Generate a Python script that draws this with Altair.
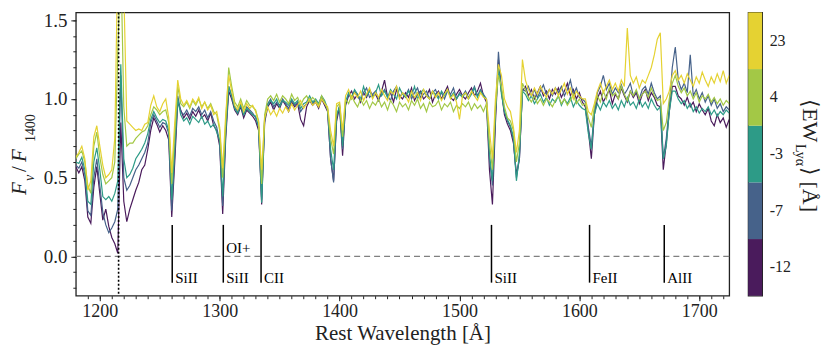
import altair as alt
import pandas as pd

# ---------------- data ----------------
lam = [1180 + 2.5 * i for i in range(219)]

ew_labels = ["-12", "-7", "-3", "4", "23"]
colors = ["#4a1b5c", "#46628a", "#2d9b87", "#a3c846", "#e5d232"]

flux_m12 = [
    .57, .53, .57, .48, .25, .21, .44, .57, .40, .23,
    .30, .19, .12, .08, .02, .85, .35, .22, .30, .36,
    .42, .47, .55, .58, .68, .80, .88, .84, .79, .83,
    .80, .74, .25, .60, .98, .93, .88, .91, .87, .92,
    .89, .93, .88, .90, .86, .91, .83, .80, .70, .27,
    .75, 1.05, 1.0, .93, .90, .95, .88, .93, .91, .89,
    .86, .80, .33, .85, .95, .98, .93, .97, .94, .99,
    .96, .92, .98, .95, .97, .87, .83, .95, .99, .96,
    .98, .94, 1.0, .96, .92, .62, .48, .86, .95, .64,
    .96, 1.02, 1.05, 1.0, 1.03, .98, 1.04, 1.01, 1.06, 1.02,
    1.03, .99, 1.05, 1.12, 1.01, 1.04, .98, 1.06, 1.02, 1.0,
    1.04, 1.01, 1.07, .99, 1.03, 1.05, 1.0, 1.02, 1.06, .98,
    1.03, 1.05, 1.0, 1.04, 1.08, 1.01, .99, 1.03, 1.06, 1.02,
    1.0, 1.04, 1.07, 1.02, 1.05, 1.1, 1.02, .98, .55, .33,
    .85, 1.25, 1.05, .90, .84, .80, .72, .52, .62, 1.05,
    1.08, 1.02, 1.06, 1.0, 1.04, 1.08, 1.02, 1.05, 1.0, 1.06,
    1.03, 1.07, 1.01, 1.05, 1.1, 1.02, 1.06, 1.0, 1.04, .98,
    .95, .80, .62, .90, 1.0, 1.05, .98, 1.02, 1.06, .97,
    1.03, 1.0, 1.07, 1.02, .98, 1.05, 1.01, 1.04, .97, 1.03,
    1.06, .99, 1.04, 1.01, .96, .95, .55, .72, .92, 1.08,
    1.08, 1.02, 1.0, .96, 1.01, .95, .98, .92, .97, .93,
    .90, .94, .86, .83, .90, .85, .88, .82, .87]

flux_m7 = [
    .58, .56, .60, .52, .29, .26, .50, .62, .45, .28,
    .20, .15, .18, .22, .30, 1.15, .50, .42, .45, .50,
    .55, .58, .62, .66, .72, .85, .90, .86, .82, .85,
    .84, .78, .29, .65, 1.02, .92, .90, .93, .89, .94,
    .92, .95, .90, .93, .88, .92, .86, .82, .72, .32,
    .78, 1.08, 1.02, .95, .92, .97, .90, .95, .93, .91,
    .88, .82, .36, .88, .97, 1.0, .95, .98, .96, 1.0,
    .97, .94, .99, .96, .98, .92, .95, .97, 1.0, .97,
    .99, .96, 1.01, .98, .93, .62, .47, .88, .96, .68,
    .97, 1.03, 1.0, 1.05, 1.02, .99, 1.04, 1.07, 1.01, 1.03,
    1.05, 1.0, 1.03, 1.06, 1.02, .99, 1.05, 1.08, 1.01, 1.04,
    1.02, 1.06, 1.0, 1.04, 1.07, 1.01, 1.03, 1.05, 1.0, 1.04,
    1.06, 1.01, 1.04, 1.0, 1.05, 1.03, 1.07, 1.0, 1.04, 1.02,
    1.05, 1.01, 1.04, 1.08, 1.02, 1.06, 1.03, 1.0, .62, .45,
    .90, 1.30, 1.05, .92, .86, .82, .74, .50, .62, 1.06,
    1.05, 1.08, 1.02, 1.06, 1.01, 1.05, 1.09, 1.03, 1.06, 1.02,
    1.07, 1.04, 1.08, 1.02, 1.06, 1.12, 1.03, 1.07, 1.01, 1.0,
    .98, .82, .70, .92, 1.04, 1.08, 1.15, 1.06, 1.1, 1.03,
    1.07, 1.04, 1.09, 1.03, 1.06, 1.1, 1.02, 1.05, 1.0, 1.06,
    1.08, 1.03, 1.1, 1.04, 1.0, 1.02, .62, .75, .95, 1.2,
    1.33, 1.12, 1.06, 1.1, 1.04, 1.28, 1.02, 1.06, 1.0, 1.04,
    .98, 1.02, .96, 1.0, .94, .97, .92, .95, .93]

flux_m3 = [
    .60, .59, .63, .55, .35, .33, .60, .69, .55, .38,
    .36, .38, .35, .40, .48, 1.22, .62, .50, .52, .56,
    .62, .65, .68, .72, .78, .87, .92, .88, .85, .87,
    .86, .80, .36, .70, 1.0, .90, .86, .88, .84, .89,
    .87, .85, .89, .84, .86, .82, .84, .79, .74, .38,
    .80, 1.08, 1.02, .94, .91, .96, .90, .94, .92, .90,
    .89, .82, .34, .87, .96, .99, .97, 1.0, .95, .99,
    .98, .96, 1.0, .97, .99, .94, .97, .98, 1.02, .98,
    1.0, .97, 1.02, .99, .94, .68, .55, .90, .95, .70,
    .98, 1.04, 1.01, 1.06, 1.03, 1.0, 1.08, 1.02, 1.05, 1.01,
    1.04, 1.09, 1.02, 1.05, 1.01, 1.06, 1.03, 1.0, 1.07, 1.03,
    1.01, 1.05, 1.02, 1.08, 1.0, 1.04, 1.06, 1.02, 1.0, 1.05,
    1.03, 1.0, 1.05, 1.02, 1.06, 1.01, 1.04, 1.0, 1.03, 1.01,
    1.04, 1.0, 1.03, 1.07, 1.01, 1.05, 1.02, 1.0, .65, .48,
    .92, 1.20, 1.03, .92, .87, .83, .76, .48, .65, 1.05,
    1.03, .99, 1.02, .97, 1.0, 1.03, .98, 1.01, .96, 1.0,
    .98, 1.02, .96, 1.0, .97, 1.01, .95, .99, .96, .94,
    .93, .78, .68, .90, .97, .93, .98, .95, .99, .94,
    .97, .93, .99, .95, 1.01, .96, .98, .94, 1.0, .95,
    .98, .94, 1.0, .96, .93, .95, .62, .70, .92, 1.05,
    1.05, 1.0, .97, .99, .94, .97, .92, .95, .91, .94,
    .92, .95, .90, .93, .89, .92, .90, .93, .91]

flux_p4 = [
    .62, .65, .67, .60, .45, .40, .70, .79, .63, .52,
    .46, .48, .50, .60, 1.30, 1.90, .95, .70, .72, .72,
    .75, .77, .79, .80, .83, .90, .95, .93, .90, .92,
    .93, .85, .46, .78, 1.08, .97, .95, .98, .94, .99,
    .96, 1.0, .95, .98, .94, .97, .92, .90, .80, .50,
    .85, 1.20, 1.08, .98, .95, 1.0, .94, .99, .96, .95,
    .93, .86, .46, .90, 1.0, 1.02, .99, 1.03, .98, 1.02,
    1.0, .97, 1.03, .99, 1.01, .96, 1.0, 1.02, .98, 1.01,
    .99, .96, 1.02, .98, .93, .75, .65, .95, .97, .76,
    1.0, .97, 1.02, .98, .95, 1.0, .96, .99, .94, .98,
    .96, 1.0, .95, .98, .93, .99, .96, .92, .98, .95,
    .97, .93, .99, .96, 1.0, .94, .97, .92, .98, .95,
    .96, .99, .93, .97, .95, .98, .92, .96, .94, .97,
    .95, .98, .93, .97, .94, .96, .92, .97, .72, .55,
    .95, 1.15, 1.08, .95, .88, .86, .80, .60, .72, 1.10,
    1.06, 1.01, .98, 1.02, .97, 1.0, .96, 1.0, .98, .95,
    .99, 1.02, .97, 1.0, .96, .99, 1.03, .97, 1.0, .96,
    .97, .88, .82, .95, 1.02, .98, 1.05, 1.0, 1.07, 1.02,
    1.04, 1.0, 1.08, 1.03, .99, 1.05, 1.02, 1.06, 1.0, 1.03,
    1.05, 1.01, 1.07, 1.02, .99, 1.0, .80, .85, 1.0, 1.10,
    1.15, 1.08, 1.04, 1.07, 1.02, 1.05, 1.0, 1.04, .98, 1.02,
    1.0, 1.03, .98, 1.01, .97, 1.0, .96, .99, .97]

flux_p23 = [
    .63, .66, .70, .62, .42, .48, .76, .83, .70, .58,
    .50, .52, .55, .75, 1.90, 2.2, 1.7, .86, .84, .82,
    .80, .81, .80, .84, .85, .96, 1.02, .95, .92, .97,
    1.0, .88, .53, .85, 1.12, 1.0, .96, .99, .95, 1.0,
    .97, 1.01, .94, .98, .93, .96, .90, .92, .82, .56,
    .90, 1.15, 1.05, .96, .93, .98, .92, .97, .94, .96,
    .92, .85, .55, .88, .95, .90, .93, .89, .94, .91,
    .95, .92, .97, .93, .96, .99, .94, .97, 1.0, .96,
    .98, .95, 1.0, .97, .95, .80, .70, .97, .98, .80,
    1.02, 1.06, 1.0, 1.04, 1.01, 1.05, .99, 1.03, 1.07, 1.0,
    1.04, 1.01, 1.06, 1.02, .99, 1.05, 1.03, 1.08, 1.0, 1.04,
    1.02, .98, 1.05, 1.01, 1.04, .99, 1.06, 1.02, 1.0, 1.05,
    1.01, 1.04, .99, 1.03, 1.06, 1.0, 1.03, .98, .87, 1.02,
    1.04, 1.0, 1.05, 1.02, .99, 1.04, 1.01, 1.0, .80, .62,
    1.0, 1.22, 1.15, 1.0, .95, .92, .82, .66, .80, 1.25,
    1.12, 1.06, 1.02, 1.07, 1.03, 1.08, 1.04, 1.01, 1.06, 1.03,
    1.07, 1.02, 1.06, 1.1, 1.03, 1.07, 1.0, 1.05, 1.02, 1.0,
    1.0, .92, .90, .97, 1.05, 1.1, 1.04, 1.08, 1.12, 1.06,
    1.1, 1.05, 1.12, 1.08, 1.45, 1.15, 1.1, 1.14, 1.07, 1.12,
    1.1, 1.15, 1.2, 1.28, 1.38, 1.42, .97, 1.0, 1.05, 1.15,
    1.18, 1.12, 1.15, 1.1, 1.16, 1.12, 1.08, 1.14, 1.1, 1.17,
    1.12, 1.08, 1.14, 1.1, 1.16, 1.11, 1.18, 1.1, 1.15]

series = [flux_m12, flux_m7, flux_m3, flux_p4, flux_p23]
for s in series:
    assert len(s) == len(lam), len(s)

line_lam = [1260.4, 1303.0, 1334.5, 1526.7, 1608.5, 1670.8]
line_names = ["SiII", "SiII", "CII", "SiII", "FeII", "AlII"]
lya = 1215.67

x_major = [1200, 1300, 1400, 1500, 1600, 1700]
x_minor = list(range(1190, 1725, 10))
y_major = [0.0, 0.5, 1.0, 1.5]
y_minor = [round(-0.2 + 0.1 * k, 1) for k in range(18)]

# ---------------- style ----------------
FONT = "Liberation Serif"
INK = "#222222"
W, H = 655, 284
xs = alt.Scale(domain=[1180, 1725], nice=False, zero=False)
ys = alt.Scale(domain=[-0.25, 1.55], nice=False, zero=False)

ax_x_major = alt.Axis(values=x_major, format="d", orient="bottom",
                      title="Rest Wavelength [Å]", tickSize=5, tickColor=INK,
                      labelPadding=2, labelFont=FONT, labelFontSize=18, labelColor=INK,
                      titleFont=FONT, titleFontSize=21, titleFontWeight="normal",
                      titleColor=INK, titleBaseline="alphabetic", titleY=44,
                      domain=False, grid=False)
ax_x_minor = alt.Axis(values=x_minor, orient="bottom", labels=False, tickSize=3,
                      tickColor=INK, title=None, domain=False, grid=False)
ax_y_major = alt.Axis(values=y_major, format=".1f", orient="left", title=None,
                      tickSize=5, tickColor=INK, labelPadding=4, labelFont=FONT,
                      labelFontSize=19, labelColor=INK, domain=False, grid=False)
ax_y_minor = alt.Axis(values=y_minor, orient="left", labels=False, tickSize=3,
                      tickColor=INK, title=None, domain=False, grid=False)

layers = []
for i, (vals, col) in enumerate(zip(series, colors)):
    df = pd.DataFrame({"lam": lam, "v": vals})
    layers.append(
        alt.Chart(df).mark_line(color=col, strokeWidth=1.2, clip=True).encode(
            x=alt.X("lam:Q", scale=xs, axis=ax_x_major if i == 0 else None),
            y=alt.Y("v:Q", scale=ys, axis=ax_y_major if i == 0 else None),
        )
    )

zero_line = alt.Chart(pd.DataFrame({"z": [0.0]})).mark_rule(
    color="#808080", strokeDash=[6, 4], strokeWidth=1.2).encode(
    y=alt.Y("z:Q", scale=ys, axis=None))

ann_df = pd.DataFrame({"lam": line_lam, "lo": [-0.167] * 6, "hi": [0.2] * 6})
ann_rules = alt.Chart(ann_df).mark_rule(color="black", strokeWidth=1.5).encode(
    x=alt.X("lam:Q", scale=xs, axis=ax_x_minor),
    y=alt.Y("lo:Q", scale=ys, axis=ax_y_minor),
    y2="hi:Q",
)

lab_df = pd.DataFrame({
    "lam": line_lam + [1303.0],
    "name": line_names + ["OI+"],
    "yv": [-0.14] * 6 + [0.05],
})
ann_text = alt.Chart(lab_df).mark_text(
    align="left", baseline="middle", dx=3, font=FONT, fontSize=15, color="black").encode(
    x=alt.X("lam:Q", scale=xs, axis=None),
    y=alt.Y("yv:Q", scale=ys, axis=None),
    text="name:N",
)

lya_line = alt.Chart(pd.DataFrame({"l": [lya]})).mark_rule(
    color="black", strokeDash=[2, 2], strokeWidth=1.6).encode(
    x=alt.X("l:Q", scale=xs, axis=None))


def txt(x, y, s, size, angle, italic=False, font=FONT):
    return alt.Chart(pd.DataFrame({"t": [s]})).mark_text(
        align="left", baseline="alphabetic", angle=angle, fontSize=size, font=font,
        fontStyle="italic" if italic else "normal", color=INK).encode(
        x=alt.value(x), y=alt.value(y), text="t:N")


ytitle = [
    txt(-50, 183, "F", 21, 270, italic=True),
    txt(-42, 169, "ν", 14, 270, italic=True),
    txt(-50, 160, "/", 21, 270),
    txt(-50, 150, "F", 21, 270, italic=True),
    txt(-41, 130, "1400", 14, 270),
]

main = alt.layer(
    zero_line, *layers, ann_rules, ann_text, lya_line, *ytitle
).properties(width=W, height=H).resolve_axis(x="independent", y="independent")

# ---------------- colorbar ----------------
cb_order = ["23", "4", "-3", "-7", "-12"]
cb_df = pd.DataFrame({"ew": ew_labels})
cb = alt.Chart(cb_df).mark_rect().encode(
    y=alt.Y("ew:N", sort=cb_order, scale=alt.Scale(paddingInner=0, paddingOuter=0),
            axis=alt.Axis(orient="right", title=None, ticks=False, tickSize=0,
                          labelPadding=7, domain=False, labelAngle=0, labelFont=FONT,
                          labelFontSize=16, labelColor=INK)),
    color=alt.Color("ew:N", scale=alt.Scale(domain=ew_labels, range=colors), legend=None),
).properties(width=14, height=H)

cb_title = [
    txt(55, 87, "⟨EW", 22, 90),
    txt(48, 132, "Lyα", 14, 90),
    txt(55, 155, "⟩ [Å]", 22, 90),
]
cbar = alt.layer(cb, *cb_title)

chart = alt.hconcat(main, cbar, spacing=16).properties(
    padding={"left": 0, "top": 2, "right": 0, "bottom": 0}
).configure_view(stroke=INK, strokeWidth=1.3)

chart.save("out.html", embed_options={"renderer": "svg", "actions": False})
